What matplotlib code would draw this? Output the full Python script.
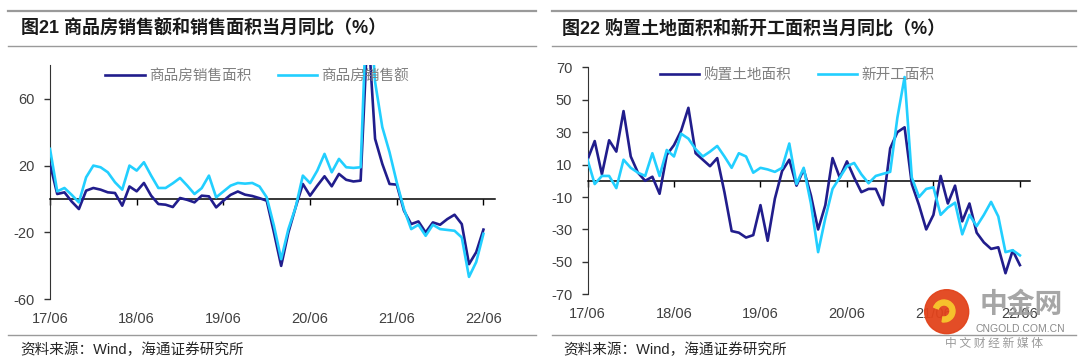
import matplotlib
matplotlib.use("Agg")
import matplotlib.pyplot as plt
from matplotlib.patches import Circle, Wedge

plt.rcParams['font.family'] = ['Noto Sans CJK SC', 'DejaVu Sans']

# monthly categories 17/06 .. 22/06
months = []
for yy in range(17, 23):
    for mm in range(1, 13):
        if (yy == 17 and mm < 6) or (yy == 22 and mm > 6):
            continue
        months.append(f"{yy}/{mm:02d}")
tick_labels = ['17/06', '18/06', '19/06', '20/06', '21/06', '22/06']

# 图21: 商品房销售面积 / 销售额 当月同比 (%)
sales_area = [21, 3, 4, -1.5, -6, 5, 6.6, 5.6, 4, 3.6,
              -4, 7.5, 4.6, 9.6, 2, -3, -3.4, -4.8, 0.6, -0.5,
              -2, 2, 1.6, -5, -1, 2.5, 4.5, 2.6, 1.8, 0.5,
              -1, -20, -40, -20, -5, 9, 2, 8, 13.6, 7.6,
              15, 11.5, 10.5, 11, 104.9, 36, 21, 9, 8.6, -7,
              -15, -13.4, -20, -14, -15.4, -12, -9.4, -15, -39, -31.8, -18.3]
sales_amount = [30, 4.6, 6.6, 2.5, -2, 13, 20, 19, 16, 10,
                5.6, 20, 17, 22, 14, 6.6, 6.6, 9.4, 12.6, 8,
                3, 6.5, 14, 1, 4.5, 8, 9.6, 9.2, 9.6, 7.5,
                1, -16, -36, -18, -5, 14, 9.5, 17, 27, 16,
                24, 19, 18.6, 19, 133.4, 70, 43, 28, 10, -6,
                -18, -15.4, -22, -15.4, -18, -18.5, -19, -23, -46.6, -37.7, -20.8]

# 图22: 购置土地面积 / 新开工面积 当月同比 (%)
land_area = [13, 24.5, 4, 25, 18, 43, 15, 5, 0, 2.5,
             -8, 16, 22, 31, 45, 17, 13, 9, 14, -7,
             -31, -32, -35, -33.5, -15, -37, -11, 6, 13, -3,
             7, -9, -30, -15, 14, 2, 12, 2, -7, -5,
             -5, -15, 20, 30, 33, -2, -15, -30, -21, 3,
             -14, -3, -25, -14, -32, -38, -42, -41, -57, -43, -52]
new_start = [13, -2, 3, 3, -4.5, 13, 8, 5, 3, 17,
             3, 19, 15, 29, 26, 19.5, 15, 18, 21.5, 15,
             8, 17, 15, 5, 8, 7, 5.5, 8, 23, -2,
             8, -14, -44, -23, -5, 2, 9, 11, 4, -1.5,
             3, 4.3, 5.5, 39, 64, 2, -10, -5, -4, -21,
             -16.5, -13.5, -33, -21, -28, -21, -13, -22, -44, -42.8, -46]

NAVY = '#211d8c'
CYAN = '#22cfff'
TICK_FONT = ['Liberation Sans', 'DejaVu Sans']
MIXED_FONT = ['Liberation Sans', 'Noto Sans CJK SC']


def draw_panel(ax, s1, s2, names, yticks, ylim, xmax, legend_x, legend_y):
    x = list(range(len(months)))
    ax.plot(x, s1, color=NAVY, lw=1.9, label=names[0], zorder=3,
            solid_joinstyle='round')
    ax.plot(x, s2, color=CYAN, lw=1.9, label=names[1], zorder=3,
            solid_joinstyle='round')
    ax.set_xlim(0, xmax)
    ax.set_ylim(*ylim)

    for side in ['top', 'right']:
        ax.spines[side].set_visible(False)
    ax.spines['left'].set_color('#333333')
    ax.spines['bottom'].set_position(('data', 0))
    ax.spines['bottom'].set_color('#000000')
    ax.spines['bottom'].set_linewidth(1.1)

    tick_pos = [months.index(t) for t in tick_labels]
    ax.set_xticks(tick_pos)
    ax.tick_params(axis='x', direction='out', length=4, width=1,
                   labelbottom=False)
    ax.set_yticks(yticks)
    ax.set_yticklabels([str(v) for v in yticks], family=TICK_FONT,
                       fontsize=10.5, color='#404040')
    ax.tick_params(axis='y', direction='out', length=4, width=1,
                   color='#333333', pad=7)

    sec = ax.secondary_xaxis('bottom')
    sec.spines['bottom'].set_visible(False)
    sec.set_xticks(tick_pos)
    sec.set_xticklabels(tick_labels, family=TICK_FONT, fontsize=10.5,
                        color='#404040')
    sec.tick_params(length=0, pad=9.5)

    leg = ax.legend(ncol=2, loc='center left',
                    bbox_to_anchor=(legend_x, legend_y), frameon=False,
                    fontsize=10.5, handlelength=2.7, handletextpad=0.3,
                    columnspacing=1.8, borderpad=0, borderaxespad=0)
    for t in leg.get_texts():
        t.set_color('#808080')


fig = plt.figure(figsize=(10.8, 3.6), dpi=100)

ax1 = fig.add_axes([50 / 1080, 1 - 299.3 / 360, 445 / 1080, 234 / 360])
draw_panel(ax1, sales_area, sales_amount, ['商品房销售面积', '商品房销售额'],
           [-60, -20, 20, 60], (-60, 80), 61.6, 0.124, 0.954)

ax2 = fig.add_axes([587.5 / 1080, 1 - 294.3 / 360, 442.5 / 1080, 227 / 360])
draw_panel(ax2, land_area, new_start, ['购置土地面积', '新开工面积'],
           [-70, -50, -30, -10, 10, 30, 50, 70], (-70, 70), 61.4, 0.164, 0.966)

# frame lines, titles, source notes (pixel coordinates)
ov = fig.add_axes([0, 0, 1, 1])
ov.set_xlim(0, 1080)
ov.set_ylim(360, 0)
ov.axis('off')
ov.patch.set_alpha(0)
ov.set_zorder(10)

for x0, x1 in [(8, 536), (552, 1076)]:
    ov.plot([x0, x1], [10.5, 10.5], color='#9a9a9a', lw=1.6)
    ov.plot([x0, x1], [46, 46], color='#9a9a9a', lw=1.0)
    ov.plot([x0, x1], [335, 335], color='#9a9a9a', lw=1.0)

ov.text(21, 28.5, '图21 商品房销售额和销售面积当月同比（%）', fontsize=13,
        fontweight='bold', color='#1a1a1a', va='center', ha='left',
        family=MIXED_FONT)
ov.text(562, 28.5, '图22 购置土地面积和新开工面积当月同比（%）', fontsize=13,
        fontweight='bold', color='#1a1a1a', va='center', ha='left',
        family=MIXED_FONT)
for x0 in [20, 563]:
    ov.text(x0, 350, '资料来源：Wind，海通证券研究所', fontsize=10.5,
            color='#262626', va='center', ha='left', family=MIXED_FONT)

# watermark
ov.add_patch(Circle((946.7, 311.7), 22, color='#e2431b', alpha=0.95))
ov.add_patch(Wedge((944, 311), 11, 200, 460, width=5, color='#f6c22c'))
ov.text(1021, 305, '中金网', fontsize=20, fontweight='bold', color='#9c9c9c',
        alpha=0.9, ha='center', va='center')
ov.text(1020, 329, 'CNGOLD.COM.CN', fontsize=7.5, color='#8a8a8a',
        family=TICK_FONT, ha='center', va='center')
ov.text(994, 343, '中 文 财 经 新 媒 体', fontsize=8.5, color='#9a9a9a',
        ha='center', va='center')

fig.savefig('out.png', dpi=100)
